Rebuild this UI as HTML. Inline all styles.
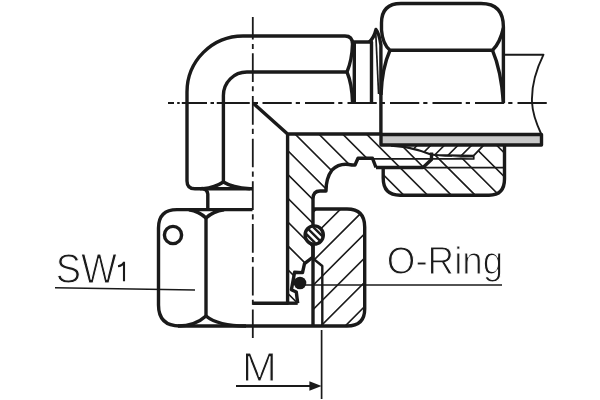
<!DOCTYPE html>
<html><head><meta charset="utf-8">
<style>
html,body{margin:0;padding:0;background:#fff;width:600px;height:400px;overflow:hidden}
svg{display:block}
text{font-family:"Liberation Sans",sans-serif;fill:#1a1a1a;stroke:#fff;stroke-width:1.1px;paint-order:normal}
</style></head>
<body>
<svg width="600" height="400" viewBox="0 0 600 400">
<defs>
  <clipPath id="cpBody"><path clip-rule="evenodd" d="M287.6 134 H381 V145 L504.5 145 V179 Q504.5 195.2 489 195.2 H400 Q383.2 195.2 383.2 178 V167 L376 167 L372.5 158.3 H358 L355 165 H352 Q340 162 332 170 Q326 178 326 191 H320 Q313 191 313 199 V257 L304.5 263.7 L302.5 272.6 L294.6 272.3 L291.4 289.7 L296.3 292 L297.7 303 H287.6 Z M392 145 H483.4 L473.7 155.9 L445 155.5 L433 155.2 L429.5 154 L420 150 L409 147.8 Z"/></clipPath>
  <clipPath id="cpNut"><path clip-rule="evenodd" d="M313 209 H347 Q364.7 209 364.7 227 V309 Q364.7 326 347 326 H313 Z"/></clipPath>
  <clipPath id="cpRing"><path d="M392 145 H483.4 L473.7 155.9 L445 155.5 L433 155.2 L429.5 154 L420 150 L409 147.8 Z"/></clipPath>
  <clipPath id="cpOring"><circle cx="314.2" cy="235" r="8"/></clipPath>
</defs>
<g fill="none" stroke="#1a1a1a" stroke-linecap="butt" stroke-linejoin="round">
  <!-- centerlines -->
  <path stroke-width="1.8" d="M252.8 17 V39.5 M252.8 44 V49 M252.8 53.25 V81.95 M252.8 86.15 V91.35 M252.8 95.95 V124.65 M252.8 128.85 V134.05 M252.8 138.65 V167.35 M252.8 171.55 V176.75 M252.8 181.35000000000002 V210.05 M252.8 214.25000000000003 V219.45000000000002 M252.8 224.05 V252.75 M252.8 256.95 V262.15000000000003 M252.8 266.75 V295.45 M252.8 299.65 V304.85 M252.8 309.45 V338"/>
  <path stroke-width="1.8" d="M168 103 H174 M177.2 103 H179.7 M181.8 103 H207 M210.5 103 H214 M216.75 103 H249.75 M253 103 H258 M262.5 103 H291.75 M295.75 103 H299.95 M305.0 103 H334.25 M338.25 103 H342.45 M347.5 103 H376.75 M380.75 103 H384.95 M390.0 103 H419.25 M423.25 103 H427.45 M432.5 103 H461.75 M465.75 103 H469.95 M475.0 103 H504.25 M508.25 103 H512.45 M517.5 103 H546.75"/>
  <!-- hatch -->
  <path clip-path="url(#cpBody)" stroke-width="1.6" d="M150 203.20 L600 653.20 M150 179.40 L600 629.40 M150 155.60 L600 605.60 M150 131.80 L600 581.80 M150 108.00 L600 558.00 M150 84.20 L600 534.20 M150 60.40 L600 510.40 M150 36.60 L600 486.60 M150 12.80 L600 462.80 M150 -11.00 L600 439.00 M150 -34.80 L600 415.20 M150 -58.60 L600 391.40 M150 -82.40 L600 367.60 M150 -106.20 L600 343.80 M150 -130.00 L600 320.00 M150 -153.80 L600 296.20 M150 -177.60 L600 272.40 M150 -201.40 L600 248.60 M150 -225.20 L600 224.80 M150 -249.00 L600 201.00"/>
  <path clip-path="url(#cpNut)" stroke-width="1.6" d="M150 326.80 L600 -123.20 M150 351.10 L600 -98.90 M150 375.40 L600 -74.60 M150 399.70 L600 -50.30 M150 424.00 L600 -26.00 M150 448.30 L600 -1.70 M150 472.60 L600 22.60 M150 496.90 L600 46.90 M150 521.20 L600 71.20 M150 545.50 L600 95.50"/>
  <path clip-path="url(#cpRing)" stroke-width="1.6" d="M150 412.50 L600 -37.50 M150 426.10 L600 -23.90 M150 439.70 L600 -10.30 M150 453.30 L600 3.30 M150 466.90 L600 16.90 M150 480.50 L600 30.50"/>
  <circle cx="314.2" cy="235" r="9.1" fill="#fff" stroke="none"/>
  <path clip-path="url(#cpOring)" stroke-width="2.4" d="M150 91.80 L600 541.80 M150 84.80 L600 534.80 M150 77.80 L600 527.80 M150 70.80 L600 520.80 M150 63.80 L600 513.80 M150 56.80 L600 506.80 M150 49.80 L600 499.80"/>

  <g stroke-width="3.4">
    <!-- elbow -->
    <path d="M187 181 V92 A56 56 0 0 1 243 36 H345 Q352.5 36 352.5 44 Q352 60 347 72 Q352 84 352.5 102"/>
    <path d="M223.4 182 V95.5 A23.5 23.5 0 0 1 246.9 72 H347"/>
        <path d="M187 181 Q187 188.8 195 188.8 H252.5"/>
    <path d="M203 188.8 Q215 187.5 223.4 182 Q232 187.5 250 188.8"/>
    <!-- neck between elbow and lower nut -->
    <path d="M200 188.8 Q206.5 187.5 207.8 194 V209.5"/>
    <!-- lower nut (view) -->
    <path d="M252.5 209.6 H177 Q158.5 209.6 158.5 228 V305 Q158.5 326 180 326 H252.5"/>
    <path d="M189 209.8 Q199 211.5 206 218 Q213 211.5 224 209.8"/>
    <path d="M206 218 V316"/>
    <path d="M178 326 Q195 326 206 316 Q218 326 246 326"/>
    <circle cx="173" cy="235" r="8.6"/>
    <!-- neck top right of elbow -->
    <path d="M352.5 42 H371.5 V102"/>
    <path d="M354.3 42 V102"/>
    <!-- thread chamfer spike -->
    <path d="M369 42.2 Q374 38 376 29.5 Q379 33 380.9 45 V134"/>
    <path stroke-width="1.7" d="M375.8 34 L378.6 94"/>
    <!-- upper right nut -->
    <path d="M381.5 30 V23 Q381.5 3.5 401 3.5 H481 Q503.4 3.5 503.4 27 V103"/>
    <path d="M381.5 30 Q382.5 44 390 50.3 H492.5 Q500 43 503.4 28"/>
    <path d="M390 50.3 Q382 68 381 95"/>
    <path d="M492.5 50.3 Q501 70 503.4 102"/>
    <!-- pipe -->
    <path stroke-width="1.9" d="M503.4 54.7 H543.5 C535 72 531.5 90 532 102 C532.5 115 537 125 541.2 134"/>
    <path fill="#c8c8c8" d="M381 134.5 H541.5 V145 H381 Z"/>
    <!-- body section outline -->
    <path d="M253 103 L287.6 134 H381"/>
    <path d="M287.6 134 V303.2 H252.5"/>
    <path d="M297.7 303.2 L296.3 292 L291.4 289.7 L294.6 272.3 L302.5 272.6 L304.5 263.7 L313 257 V243 M313 226 V199 Q313 191 320 191 H326 Q326 178 332 170 Q340 162 352 165 H355 L358 158.3 H372.5 L376 167.5"/>
    <path d="M297.7 303.2 H287.6"/>
    <!-- right nut section -->
    <path d="M504.5 145 V179 Q504.5 195.2 489 195.2 H400 Q383.2 195.2 383.2 178 V167.5"/>
    <!-- cutting ring -->
    <path d="M376 167.5 H423 L431.5 159.5 V152.5"/>
    <path stroke-width="1.8" d="M372.5 158.9 H473.7 V155.7 L483.4 145.3"/>
    <path stroke-width="2.3" d="M391 145.6 Q402 146.5 409 147.8 Q420 150 429.5 154 Q433 155.2 445 155.5 L474 156"/>
    <path stroke-width="1" stroke="#777" d="M452 156.5 Q462 157.8 473 158"/>
    <path stroke-width="1.6" d="M423 167.6 H504.4"/>
    <!-- lower nut section (right) -->
    <path d="M313 209 H347 Q364.7 209 364.7 227 V309 Q364.7 326 347 326 H252.5"/>
    <path d="M313 243 V325"/>
    <path stroke-width="2.4" d="M313 258.5 L322.3 266 V326"/>
    <!-- O-ring -->
    <circle cx="314.2" cy="235" r="9.1"/>
    <path stroke-width="1.6" d="M305 285 H502"/>
    <path stroke-width="1.6" d="M55 287.8 L195 290"/>
    <!-- dimension -->
    <path stroke-width="1.7" d="M321.6 330 V399"/>
    <path stroke-width="1.9" d="M236 386 H312"/>
  </g>
  <circle cx="300" cy="283" r="6.3" fill="#1a1a1a" stroke="none"/>
  <path d="M309.4 381.2 L321.6 386 L309.4 390.8 Z" fill="#1a1a1a" stroke="none"/>
  <!-- subscript 1 -->
  <path stroke-width="2.1" d="M124 261.8 V281.3 M124 262.5 Q122 266 118 266.3"/>
</g>
<g opacity="0.995">
<text x="0" y="0" font-size="42.2" transform="translate(55.8 283.3) scale(0.9 1)">SW</text>
<text x="0" y="0" font-size="38.5" transform="translate(386.8 274.3) scale(0.955 1)">O-Ring</text>
<text x="0" y="0" font-size="40" transform="translate(241.9 381) scale(1.045 1.01)">M</text>
</g>
</svg>
</body></html>
